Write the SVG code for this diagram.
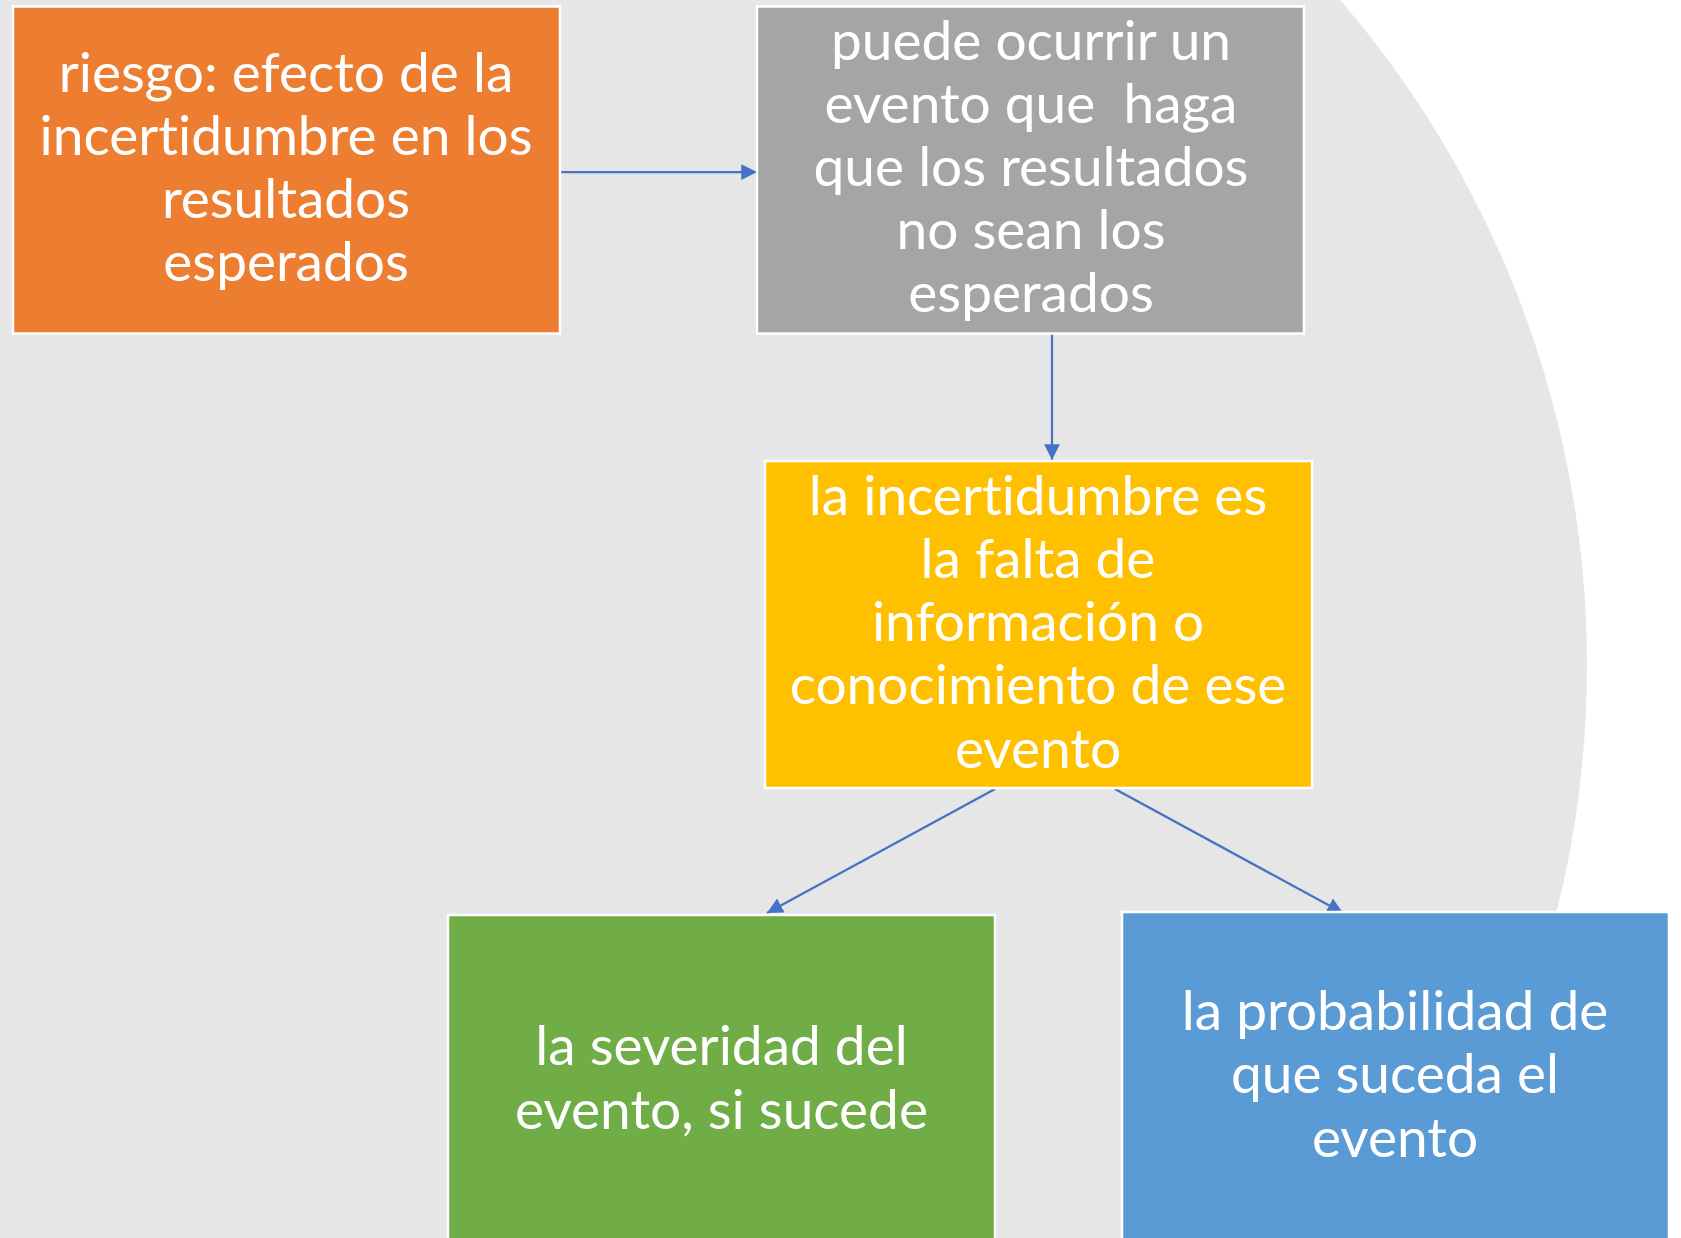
<svg xmlns="http://www.w3.org/2000/svg" width="1681" height="1238" viewBox="0 0 1681 1238">
<style>
.box{stroke:#FFFFFF;stroke-width:2.5}
.t{font-family:Lato,"Open Sans","Liberation Sans",sans-serif;font-size:55px;fill:#FFFFFF;text-anchor:middle;white-space:pre;font-variant-ligatures:none;font-feature-settings:"liga" 0}
.c{stroke:#4472C4;stroke-width:2.25;fill:none;marker-end:url(#ah)}
</style>
<defs>
<marker id="ah" viewBox="0 0 10 10" refX="10" refY="5" markerWidth="7" markerHeight="7" markerUnits="strokeWidth" orient="auto">
<path d="M0,0 L10,5 L0,10 Z" fill="#4472C4"/>
</marker>
</defs>
<rect width="1681" height="1238" fill="#FFFFFF"/>
<circle id="background" cx="568" cy="665" r="1019" fill="#E7E6E6"/>
<g id="connectors">
<line class="c" x1="560" y1="172" x2="757" y2="172"/>
<line class="c" x1="1052" y1="334" x2="1052" y2="460"/>
<line class="c" x1="995" y1="789" x2="767" y2="913"/>
<line class="c" x1="1115" y1="789" x2="1343" y2="913"/>
</g>
<g id="n1">
<rect class="box" x="13" y="6.5" width="547" height="327" fill="#ED7D31"/>
<text class="t"><tspan x="286" y="92">riesgo: efecto de la</tspan><tspan x="286" y="155">incertidumbre en los</tspan><tspan x="286" y="218">resultados</tspan><tspan x="286" y="281">esperados</tspan></text>
</g>
<g id="n2">
<rect class="box" x="757" y="6.5" width="547" height="327" fill="#A5A5A5"/>
<text class="t"><tspan x="1031" y="60">puede ocurrir un</tspan><tspan x="1031" y="123">evento que  haga</tspan><tspan x="1031" y="186">que los resultados</tspan><tspan x="1031" y="249">no sean los</tspan><tspan x="1031" y="312">esperados</tspan></text>
</g>
<g id="n3">
<rect class="box" x="765" y="461" width="547" height="327" fill="#FFC000"/>
<text class="t"><tspan x="1038" y="515">la incertidumbre es</tspan><tspan x="1038" y="578">la falta de</tspan><tspan x="1038" y="641">información o</tspan><tspan x="1038" y="704">conocimiento de ese</tspan><tspan x="1038" y="768">evento</tspan></text>
</g>
<g id="n4">
<rect class="box" x="448" y="915" width="547" height="340" fill="#70AD47"/>
<text class="t"><tspan x="721.5" y="1065">la severidad del</tspan><tspan x="721.5" y="1129">evento, si sucede</tspan></text>
</g>
<g id="n5">
<rect class="box" x="1122" y="912" width="547" height="340" fill="#5B9BD5"/>
<text class="t"><tspan x="1395" y="1030">la probabilidad de</tspan><tspan x="1395" y="1093">que suceda el</tspan><tspan x="1395" y="1157">evento</tspan></text>
</g>
</svg>
